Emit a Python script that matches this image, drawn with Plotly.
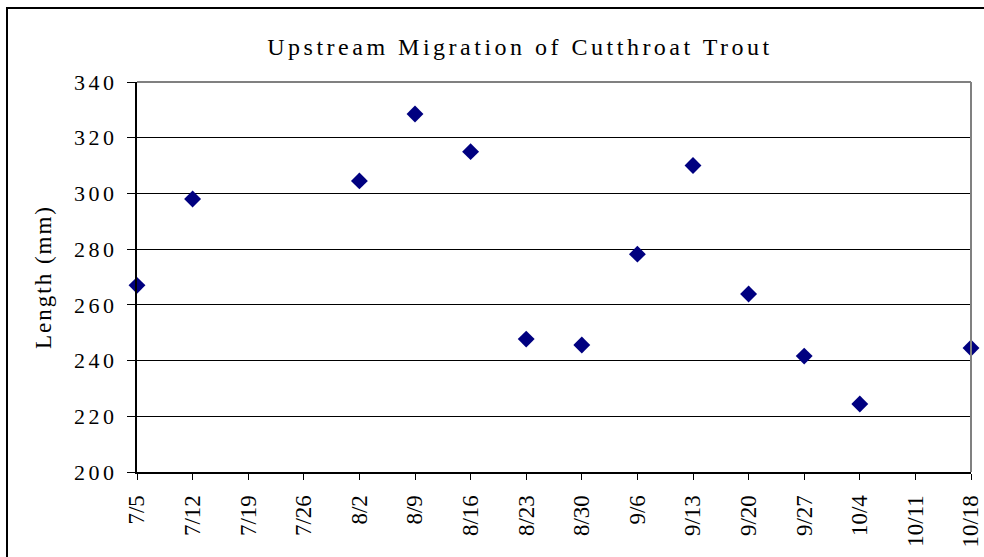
import plotly.graph_objects as go

# Data
tick_dates = ["2004-07-05", "2004-07-12", "2004-07-19", "2004-07-26", "2004-08-02",
              "2004-08-09", "2004-08-16", "2004-08-23", "2004-08-30", "2004-09-06",
              "2004-09-13", "2004-09-20", "2004-09-27", "2004-10-04", "2004-10-11",
              "2004-10-18"]
tick_labels = ["7/5", "7/12", "7/19", "7/26", "8/2", "8/9", "8/16", "8/23", "8/30",
               "9/6", "9/13", "9/20", "9/27", "10/4", "10/11", "10/18"]
obs_dates = ["2004-07-05", "2004-07-12", "2004-08-02", "2004-08-09", "2004-08-16",
             "2004-08-23", "2004-08-30", "2004-09-06", "2004-09-13", "2004-09-20",
             "2004-09-27", "2004-10-04", "2004-10-18"]
lengths_mm = [267, 298, 304.5, 328.5, 315, 247.7, 245.6, 278.2, 310, 263.9, 241.6, 224.4, 244.5]
y_ticks = [200, 220, 240, 260, 280, 300, 320, 340]
title_text = "Upstream Migration of Cutthroat Trout"
y_title_text = "Length (mm)"

FONT = "Liberation Serif, Times New Roman, serif"


def spaced(s, px):
    return '<span style="letter-spacing:%spx">%s</span>' % (px, s)


fig = go.Figure()
fig.add_trace(go.Scatter(
    x=obs_dates, y=lengths_mm, mode="markers",
    marker=dict(symbol="diamond", size=13, color="#000080"),
    cliponaxis=False, showlegend=False,
))

fig.update_layout(
    width=984, height=557,
    margin=dict(l=137, r=13, t=82, b=85, autoexpand=False),
    paper_bgcolor="white", plot_bgcolor="white",
    font=dict(family=FONT, color="black"),
    title=dict(text=spaced(title_text, 3.5),
               x=(520 - 137) / 834, xref="paper", xanchor="center",
               y=1 - 47 / 557, yanchor="middle",
               font=dict(family=FONT, size=24, color="black")),
    xaxis=dict(type="date", range=[tick_dates[0], tick_dates[-1]],
               tickvals=tick_dates, ticktext=tick_labels, tickangle=-90,
               automargin=False,
               showgrid=False, zeroline=False,
               showline=True, linecolor="black", linewidth=2,
               ticks="outside", ticklen=6, tickcolor="black", tickwidth=1,
               ticklabelstandoff=6,
               tickfont=dict(family=FONT, size=23, color="black")),
    yaxis=dict(range=[200, 340], tickvals=y_ticks,
               ticktext=[spaced(str(v), 3.5) for v in y_ticks],
               automargin=False,
               showgrid=True, gridcolor="black", gridwidth=1,
               zeroline=False,
               showline=True, linecolor="black", linewidth=2,
               ticks="outside", ticklen=8, tickcolor="black", tickwidth=1,
               ticklabelstandoff=5,
               tickfont=dict(family=FONT, size=22, color="black")),
    shapes=[
        dict(type="line", xref="paper", yref="paper", x0=0, x1=1, y0=1, y1=1,
             line=dict(color="#808080", width=2)),
        dict(type="line", xref="paper", yref="paper", x0=1, x1=1, y0=0, y1=1,
             line=dict(color="#808080", width=2)),
        dict(type="rect", xref="paper", yref="paper",
             x0=(7 - 137) / 834, x1=1.2, y0=-0.5, y1=(472 - 8) / 390,
             line=dict(color="black", width=2), fillcolor="rgba(0,0,0,0)",
             layer="below"),
    ],
)
fig.update_yaxes(title=dict(text=spaced(y_title_text, 2), standoff=16,
                            font=dict(family=FONT, size=23, color="black")))

fig.write_html("out.html", config={"displayModeBar": False},
               post_script="document.body.style.margin='0';")
